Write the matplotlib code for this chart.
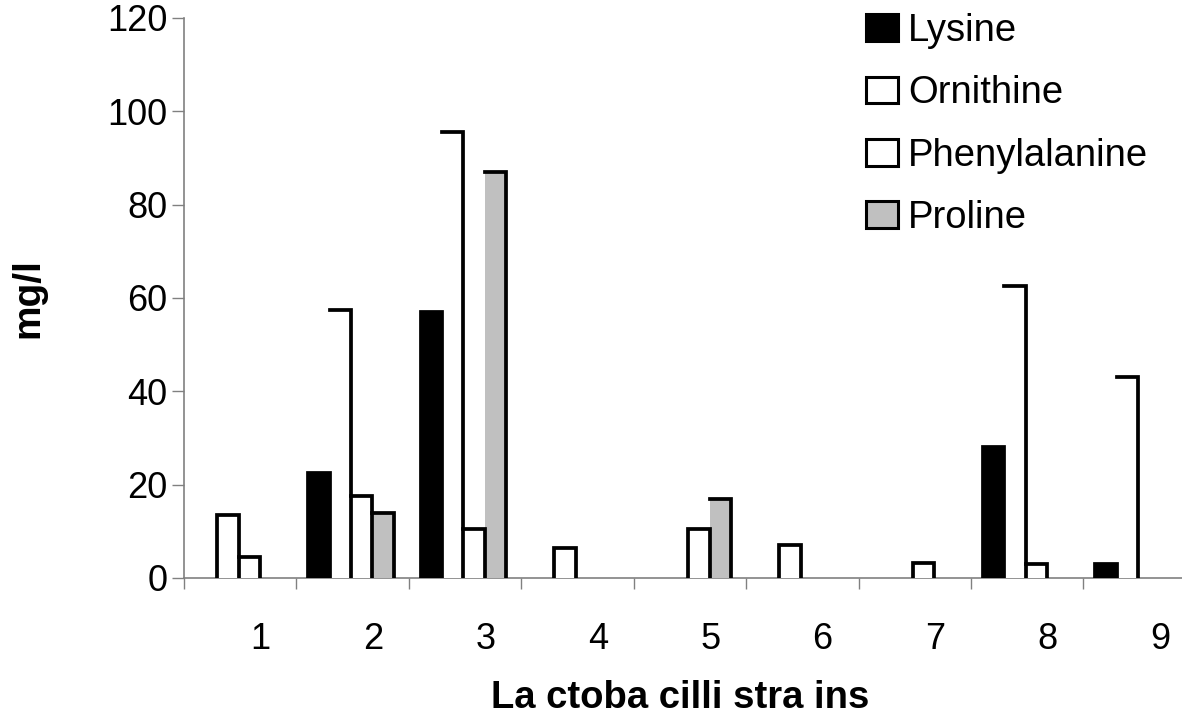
import matplotlib.pyplot as plt
from matplotlib.patches import Patch

plt.rcParams['font.family'] = ['Liberation Sans', 'DejaVu Sans']

strains = ['1', '2', '3', '4', '5', '6', '7', '8', '9']
lysine = [0, 22.5, 57, 0, 0, 0, 0, 28, 3]
ornithine = [13.5, 57.5, 95.5, 6.5, 0, 7, 0, 62.5, 43]
phenylalanine = [4.5, 17.5, 10.5, 0, 10.5, 0, 3.3, 3, 0]
proline = [0, 14, 87, 0, 17, 0, 0, 0, 0]

series_names = ['Lysine', 'Ornithine', 'Phenylalanine', 'Proline']
series_vals = [lysine, ornithine, phenylalanine, proline]
fills = ['black', 'white', 'white', '#c0c0c0']

bar_w = 0.19
start = 0.105
edge_lw = 2.7

fig = plt.figure(figsize=(11.82, 7.17), dpi=100)
ax = fig.add_axes([0.1557, 0.1939, 0.856, 0.781])

pos = list(range(1, len(strains) + 1))
for k, (name, vals, fc) in enumerate(zip(series_names, series_vals, fills)):
    lefts = [p - 0.5 + start + k * bar_w for p in pos]
    ax.bar(lefts, vals, width=bar_w, align='edge', color=fc, edgecolor='none',
           zorder=2)
    # outline: top and right edge, left edge only when nothing stands to the left
    for g, (x0, h) in enumerate(zip(lefts, vals)):
        if h <= 0:
            continue
        x1 = x0 + bar_w
        prev = series_vals[k - 1][g] if k > 0 else 0
        if prev > 0:
            xs, ys = [x0, x1, x1], [h, h, 0]
        else:
            xs, ys = [x0, x0, x1, x1], [0, h, h, 0]
        ax.plot(xs, ys, color='black', lw=edge_lw, solid_joinstyle='miter',
                solid_capstyle='projecting', zorder=3)

ax.set_xlim(0.5, len(strains) + 0.5)
ax.set_ylim(0, 120)
ax.set_yticks(range(0, 121, 20))
ax.tick_params(axis='y', labelsize=26, length=9, width=1, color='#808080',
               direction='out', pad=3)

# group boundaries as major ticks, labels as minor ticks shifted right
ax.set_xticks([p - 0.5 for p in pos] + [len(strains) + 0.5])
ax.set_xticklabels([])
ax.set_xticks([p + 0.18 for p in pos], minor=True)
ax.set_xticklabels(strains, minor=True)
ax.tick_params(axis='x', which='major', length=8, width=1, color='#808080',
               direction='out')
ax.tick_params(axis='x', which='minor', length=0, labelsize=26, pad=32)

for s in ['top', 'right']:
    ax.spines[s].set_visible(False)
for s in ['left', 'bottom']:
    ax.spines[s].set_color('#808080')
    ax.spines[s].set_linewidth(1.2)
    ax.spines[s].set_zorder(1)

ax.set_xlabel('La ctoba cilli stra ins', fontsize=27.5, fontweight='bold')
ax.xaxis.set_label_coords(0.49, -0.182)
ax.set_ylabel('mg/l', fontsize=28, fontweight='bold')
ax.yaxis.set_label_coords(-0.136, 0.50)

handles = [Patch(facecolor=fc, edgecolor='black', lw=2.2) for fc in fills]
fig.legend(handles, series_names, loc='upper left',
           bbox_to_anchor=(866 / 1182, 1 - 13 / 717), frameon=False,
           fontsize=27.5, handlelength=0.84, handleheight=0.7,
           handletextpad=0.26, labelspacing=0.69, borderpad=0,
           borderaxespad=0)

fig.savefig('out.png', dpi=100)
